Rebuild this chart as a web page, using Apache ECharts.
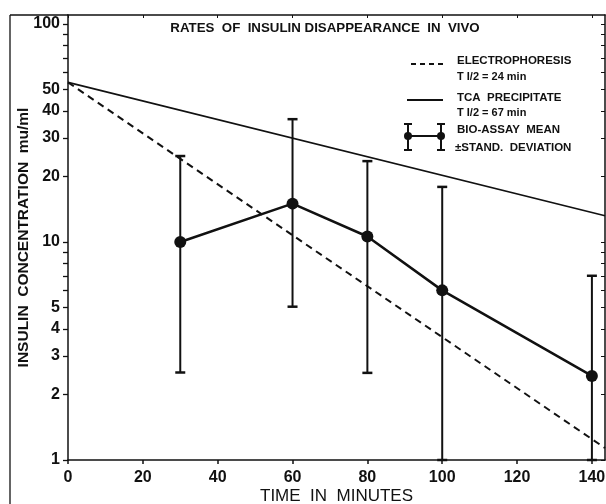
<!DOCTYPE html>
<html><head><meta charset="utf-8">
<script src="https://cdn.jsdelivr.net/npm/echarts@6/dist/echarts.min.js"></script>
<style>html,body{margin:0;padding:0;background:#fff}#c{width:606px;height:504px}</style>
</head><body><div id="c"></div>
<script>
// ---- data ----
const xTickValues = [0, 20, 40, 60, 80, 100, 120, 140];
const yLabelValues = [1, 2, 3, 4, 5, 10, 20, 30, 40, 50, 100];
const yTickValues = [1, 2, 3, 4, 5, 6, 7, 8, 9, 10, 20, 30, 40, 50, 60, 70, 80, 90, 100];

const electroTime = [0, 143.5];
const electroConc = [54, 1.135];

const tcaTime = [0, 143.5];
const tcaConc = [54, 13.2];

const bioTime = [30, 60, 80, 100, 140];
const bioMean = [10, 15, 10.6, 6.0, 2.43];
const bioHigh = [24.8, 36.6, 23.5, 17.9, 7.0];
const bioLow = [2.52, 5.05, 2.51, 1, 1];

// ---- chart ----
const FONT = '"Liberation Sans", Arial, sans-serif';
const BLK = '#111';
const zip = (a, b) => a.map((v, i) => [v, b[i]]);

const chart = echarts.init(document.getElementById('c'), null, {renderer: 'canvas'});
const X_MIN = 0, X_MAX = 143.5, Y_MIN = 1, Y_MAX = 110;

chart.setOption({
  animation: false,
  backgroundColor: '#fff',
  grid: {left: 68, right: 1, top: 15, bottom: 44, containLabel: false, outerBoundsMode: 'none'},
  xAxis: [
    {
      type: 'value', position: 'bottom', min: X_MIN, max: X_MAX,
      axisLine: {show: true, onZero: false, lineStyle: {color: BLK, width: 1.5}},
      axisTick: {show: true, inside: false, length: 4, customValues: xTickValues, lineStyle: {color: BLK, width: 1.5}},
      axisLabel: {customValues: xTickValues, color: BLK, fontFamily: FONT, fontWeight: 'bold', fontSize: 16, margin: 10},
      splitLine: {show: false},
      name: 'TIME  IN  MINUTES', nameLocation: 'middle', nameGap: 28, nameMoveOverlap: false,
      nameTextStyle: {color: BLK, fontFamily: FONT, fontSize: 17}
    },
    {
      type: 'value', position: 'top', min: X_MIN, max: X_MAX,
      axisLine: {show: true, onZero: false, lineStyle: {color: BLK, width: 1.5}},
      axisTick: {show: true, inside: true, length: 3, customValues: xTickValues, lineStyle: {color: BLK, width: 1}},
      axisLabel: {show: false},
      splitLine: {show: false}
    }
  ],
  yAxis: [
    {
      type: 'log', logBase: 10, position: 'left', min: Y_MIN, max: Y_MAX,
      axisLine: {show: true, onZero: false, lineStyle: {color: BLK, width: 1.5}},
      axisTick: {show: true, inside: false, length: 5, customValues: yTickValues, lineStyle: {color: BLK, width: 1.3}},
      axisLabel: {customValues: yLabelValues, color: BLK, fontFamily: FONT, fontWeight: 'bold', fontSize: 16, margin: 8},
      minorTick: {show: false},
      splitLine: {show: false},
      name: 'INSULIN  CONCENTRATION  mu/ml', nameLocation: 'middle', nameGap: 36, nameRotate: 90, nameMoveOverlap: false,
      nameTextStyle: {color: BLK, fontFamily: FONT, fontWeight: 'bold', fontSize: 15.5}
    },
    {
      type: 'log', logBase: 10, position: 'right', min: Y_MIN, max: Y_MAX,
      axisLine: {show: true, onZero: false, lineStyle: {color: BLK, width: 1.5}},
      axisTick: {show: true, inside: true, length: 4, customValues: yTickValues, lineStyle: {color: BLK, width: 1}},
      axisLabel: {show: false},
      splitLine: {show: false}
    }
  ],
  series: [
    {
      name: 'ELECTROPHORESIS', type: 'line', xAxisIndex: 0, yAxisIndex: 0,
      data: zip(electroTime, electroConc), symbol: 'none', silent: true,
      lineStyle: {color: BLK, width: 2, type: [7, 5]}
    },
    {
      name: 'TCA PRECIPITATE', type: 'line', xAxisIndex: 0, yAxisIndex: 0,
      data: zip(tcaTime, tcaConc), symbol: 'none', silent: true,
      lineStyle: {color: BLK, width: 1.6}
    },
    {
      name: 'SD', type: 'custom', xAxisIndex: 0, yAxisIndex: 0, silent: true,
      data: bioTime.map((t, i) => [t, bioLow[i], bioHigh[i]]),
      encode: {x: 0, y: [1, 2]},
      renderItem: function (params, api) {
        const t = api.value(0);
        const pLo = api.coord([t, api.value(1)]);
        const pHi = api.coord([t, api.value(2)]);
        const w = 5;
        return {
          type: 'group',
          children: [
            {type: 'line', shape: {x1: pHi[0], y1: pHi[1], x2: pLo[0], y2: pLo[1]}, style: {stroke: BLK, lineWidth: 2}},
            {type: 'line', shape: {x1: pHi[0] - w, y1: pHi[1], x2: pHi[0] + w, y2: pHi[1]}, style: {stroke: BLK, lineWidth: 2.5}},
            {type: 'line', shape: {x1: pLo[0] - w, y1: pLo[1], x2: pLo[0] + w, y2: pLo[1]}, style: {stroke: BLK, lineWidth: 2.5}}
          ]
        };
      }
    },
    {
      name: 'BIO-ASSAY MEAN', type: 'line', xAxisIndex: 0, yAxisIndex: 0,
      data: zip(bioTime, bioMean), symbol: 'circle', symbolSize: 12, silent: true,
      itemStyle: {color: BLK}, lineStyle: {color: BLK, width: 2.5}
    }
  ],
  graphic: [
    // outer frame of the scanned figure
    {type: 'line', shape: {x1: 10, y1: 15, x2: 10, y2: 504}, style: {stroke: BLK, lineWidth: 1.3}, silent: true},
    {type: 'line', shape: {x1: 10, y1: 15, x2: 68, y2: 15}, style: {stroke: BLK, lineWidth: 1.3}, silent: true},
    // title
    {type: 'text', x: 325, y: 28, style: {text: 'RATES  OF  INSULIN DISAPPEARANCE  IN  VIVO', fill: BLK, font: 'bold 13.3px ' + FONT, align: 'center', verticalAlign: 'middle'}, silent: true},
    // legend
    {type: 'line', shape: {x1: 411, y1: 64, x2: 443, y2: 64}, style: {stroke: BLK, lineWidth: 2, lineDash: [5, 4]}, silent: true},
    {type: 'text', x: 457, y: 61, style: {text: 'ELECTROPHORESIS', fill: BLK, font: 'bold 11.5px ' + FONT, verticalAlign: 'middle'}, silent: true},
    {type: 'text', x: 457, y: 77, style: {text: 'T I/2 = 24 min', fill: BLK, font: 'bold 11px ' + FONT, verticalAlign: 'middle'}, silent: true},
    {type: 'line', shape: {x1: 407, y1: 100, x2: 443, y2: 100}, style: {stroke: BLK, lineWidth: 2}, silent: true},
    {type: 'text', x: 457, y: 98, style: {text: 'TCA  PRECIPITATE', fill: BLK, font: 'bold 11.5px ' + FONT, verticalAlign: 'middle'}, silent: true},
    {type: 'text', x: 457, y: 113, style: {text: 'T I/2 = 67 min', fill: BLK, font: 'bold 11px ' + FONT, verticalAlign: 'middle'}, silent: true},
    {type: 'group', silent: true, children: [
      {type: 'line', shape: {x1: 408, y1: 136, x2: 441, y2: 136}, style: {stroke: BLK, lineWidth: 2}},
      {type: 'line', shape: {x1: 408, y1: 124, x2: 408, y2: 150}, style: {stroke: BLK, lineWidth: 2}},
      {type: 'line', shape: {x1: 441, y1: 124, x2: 441, y2: 150}, style: {stroke: BLK, lineWidth: 2}},
      {type: 'line', shape: {x1: 404, y1: 124, x2: 412, y2: 124}, style: {stroke: BLK, lineWidth: 2}},
      {type: 'line', shape: {x1: 404, y1: 150, x2: 412, y2: 150}, style: {stroke: BLK, lineWidth: 2}},
      {type: 'line', shape: {x1: 437, y1: 124, x2: 445, y2: 124}, style: {stroke: BLK, lineWidth: 2}},
      {type: 'line', shape: {x1: 437, y1: 150, x2: 445, y2: 150}, style: {stroke: BLK, lineWidth: 2}},
      {type: 'circle', shape: {cx: 408, cy: 136, r: 4}, style: {fill: BLK}},
      {type: 'circle', shape: {cx: 441, cy: 136, r: 4}, style: {fill: BLK}}
    ]},
    {type: 'text', x: 457, y: 130, style: {text: 'BIO-ASSAY  MEAN', fill: BLK, font: 'bold 11.5px ' + FONT, verticalAlign: 'middle'}, silent: true},
    {type: 'text', x: 455, y: 148, style: {text: '\u00B1STAND.  DEVIATION', fill: BLK, font: 'bold 11.5px ' + FONT, verticalAlign: 'middle'}, silent: true}
  ]
});
</script>
</body></html>
